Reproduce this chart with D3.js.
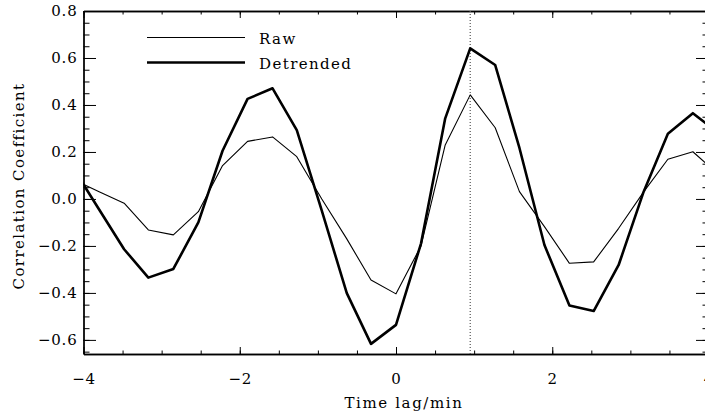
<!doctype html>
<html lang="en">
<head>
  <meta charset="UTF-8">
  <script src="https://cdn.jsdelivr.net/npm/d3@7"></script>
  <title>Correlation</title>
  <style>
    body{margin:0;background:#fff;}
    .chart text{font-family:"DejaVu Serif",serif;fill:#000;}
    .chart .tick line, .chart .domain{stroke:#000;}
  </style>
</head>
<body>
  <div class="chart"></div>
  <script>
    // lag (min), 19 s steps
    const lags = [-4.12, -3.80, -3.48, -3.17, -2.85, -2.53, -2.22, -1.90, -1.58, -1.27, -0.95, -0.63, -0.32, 0.00,
                  0.32, 0.63, 0.95, 1.27, 1.58, 1.90, 2.22, 2.53, 2.85, 3.17, 3.48, 3.80, 4.12];
    const raw = [0.081, 0.031, -0.018, -0.132, -0.153, -0.054, 0.142, 0.245, 0.264, 0.180, 0.000, -0.170, -0.345, -0.404,
                 -0.200, 0.230, 0.443, 0.303, 0.031, -0.118, -0.274, -0.268, -0.125, 0.030, 0.169, 0.201, 0.107];
    const detrended = [0.125, -0.045, -0.214, -0.335, -0.298, -0.100, 0.205, 0.426, 0.471, 0.293, -0.050, -0.401, -0.617, -0.536,
                       -0.190, 0.343, 0.641, 0.570, 0.217, -0.196, -0.454, -0.477, -0.281, 0.031, 0.277, 0.365, 0.283];
    const seriesNames = ['Raw', 'Detrended'];
    const peakLag = 0.95;
    const xTicks = [-4, -2, 0, 2, 4];
    const yTicks = [-0.6, -0.4, -0.2, 0.0, 0.2, 0.4, 0.6, 0.8];
    const xMinor = [-4, -3.5, -3, -2.5, -2, -1.5, -1, -0.5, 0, 0.5, 1, 1.5, 2, 2.5, 3, 3.5, 4];
    const yMinor = [-0.65, -0.6, -0.55, -0.5, -0.45, -0.4, -0.35, -0.3, -0.25, -0.2, -0.15, -0.1, -0.05, 0, 0.05, 0.1,
                    0.15, 0.2, 0.25, 0.3, 0.35, 0.4, 0.45, 0.5, 0.55, 0.6, 0.65, 0.7, 0.75, 0.8];

    const W = 705, H = 413;
    const plot = {left: 83.5, right: 708.5, top: 11, bottom: 354};
    const svg = d3.select('.chart').append('svg').attr('width', W).attr('height', H);

    const x = d3.scaleLinear().domain([-4, 4]).range([plot.left, plot.right]);
    const y = d3.scaleLinear().domain([-0.66, 0.8]).range([plot.bottom, plot.top]);

    svg.append('clipPath').attr('id', 'clip').append('rect')
      .attr('x', plot.left).attr('y', plot.top)
      .attr('width', plot.right - plot.left).attr('height', plot.bottom - plot.top);

    const fmtY = d3.format('.1f');
    const tickText = g => g.selectAll('text').attr('font-size', '15px')
      .attr('letter-spacing', '0.8px').attr('font-family', '"DejaVu Serif",serif');

    // bottom
    svg.append('g').attr('transform', `translate(0,${plot.bottom})`)
      .call(d3.axisBottom(x).tickValues(xTicks).tickSize(-7).tickSizeOuter(0).tickPadding(19).tickFormat(d3.format('d')))
      .call(tickText);
    svg.append('g').attr('transform', `translate(0,${plot.bottom})`)
      .call(d3.axisBottom(x).tickValues(xMinor).tickSize(-3.5).tickSizeOuter(0).tickFormat(''));
    // top
    svg.append('g').attr('transform', `translate(0,${plot.top})`)
      .call(d3.axisTop(x).tickValues(xTicks).tickSize(-7).tickSizeOuter(0).tickFormat(''));
    svg.append('g').attr('transform', `translate(0,${plot.top})`)
      .call(d3.axisTop(x).tickValues(xMinor).tickSize(-3.5).tickSizeOuter(0).tickFormat(''));
    // left
    svg.append('g').attr('transform', `translate(${plot.left},0)`)
      .call(d3.axisLeft(y).tickValues(yTicks).tickSize(-12.5).tickSizeOuter(0).tickPadding(6).tickFormat(fmtY))
      .call(tickText);
    svg.append('g').attr('transform', `translate(${plot.left},0)`)
      .call(d3.axisLeft(y).tickValues(yMinor).tickSize(-6).tickSizeOuter(0).tickFormat(''));
    // right
    svg.append('g').attr('transform', `translate(${plot.right},0)`)
      .call(d3.axisRight(y).tickValues(yTicks).tickSize(-12.5).tickSizeOuter(0).tickFormat(''));
    svg.append('g').attr('transform', `translate(${plot.right},0)`)
      .call(d3.axisRight(y).tickValues(yMinor).tickSize(-6).tickSizeOuter(0).tickFormat(''));

    svg.selectAll('.domain').attr('stroke-width', 1.3);

    // peak marker
    svg.append('line')
      .attr('x1', x(peakLag)).attr('x2', x(peakLag))
      .attr('y1', plot.top).attr('y2', plot.bottom)
      .attr('stroke', '#555').attr('stroke-width', 1.2).attr('stroke-dasharray', '1,2');

    const data = lags.map((l, i) => ({lag: l, raw: raw[i], det: detrended[i]}));
    const lines = svg.append('g').attr('clip-path', 'url(#clip)');
    const mk = key => d3.line().x(d => x(d.lag)).y(d => y(d[key]));
    lines.append('path').attr('d', mk('raw')(data))
      .attr('fill', 'none').attr('stroke', '#000').attr('stroke-width', 1.1).attr('stroke-linejoin', 'round');
    lines.append('path').attr('d', mk('det')(data))
      .attr('fill', 'none').attr('stroke', '#000').attr('stroke-width', 2.6).attr('stroke-linejoin', 'round');

    // legend
    const leg = svg.append('g');
    seriesNames.forEach((name, i) => {
      const ly = 37.5 + i * 25;
      leg.append('line').attr('x1', 147).attr('x2', 245).attr('y1', ly).attr('y2', ly)
        .attr('stroke', '#000').attr('stroke-width', i === 0 ? 1.1 : 2.6);
      leg.append('text').attr('x', 259).attr('y', ly + 6.5).attr('font-size', '15px')
        .attr('letter-spacing', '1.4px').text(name);
    });

    // titles
    svg.append('text').attr('x', (plot.left + plot.right) / 2 + 8).attr('y', 408)
      .attr('text-anchor', 'middle').attr('font-size', '15px').attr('letter-spacing', '1.6px').text('Time lag/min');
    svg.append('text').attr('transform', 'translate(24,186) rotate(-90)')
      .attr('text-anchor', 'middle').attr('font-size', '15px').attr('letter-spacing', '1.4px').text('Correlation Coefficient');
  </script>
</body>
</html>
